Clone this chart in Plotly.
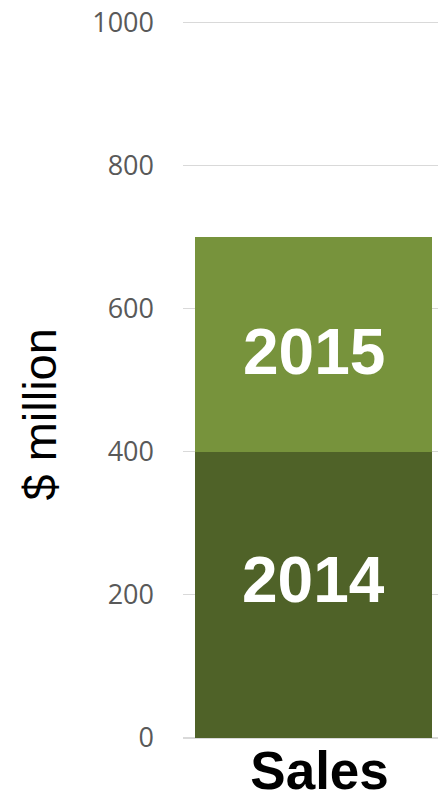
import plotly.graph_objects as go

categories = ["Sales"]
series_names = ["2014", "2015"]
values_2014 = [400]
values_2015 = [300]
series_colors = ["#4F6228", "#77933C"]
label_shifts = [15, -8]
y_ticks = [0, 200, 400, 600, 800, 1000]

fig = go.Figure()
base = [0] * len(categories)
annotations = []
for name, vals, col, shift in zip(series_names, [values_2014, values_2015], series_colors, label_shifts):
    fig.add_trace(go.Bar(
        x=categories, y=vals, name=name,
        marker=dict(color=col, line=dict(width=0)),
    ))
    for i, (c, v) in enumerate(zip(categories, vals)):
        annotations.append(dict(
            x=c, y=base[i] + v / 2, xref="x", yref="y", text=name,
            showarrow=False, yshift=shift, xanchor="center", yanchor="middle",
            font=dict(family="Liberation Sans", size=64, color="white", weight="bold"),
        ))
        base[i] += v

annotations.append(dict(
    text="$ million", xref="paper", yref="paper",
    x=(40 - 183) / 255, y=(738 - 415) / 716, xanchor="center", yanchor="middle",
    textangle=-90, showarrow=False,
    font=dict(family="Liberation Sans", size=47, color="black"),
))

fig.update_layout(
    barmode="stack", bargap=0.07,
    width=438, height=792,
    margin=dict(l=183, r=0, t=21, b=54, autoexpand=False),
    plot_bgcolor="white", paper_bgcolor="white",
    showlegend=False,
    xaxis=dict(
        range=[-0.512, 0.488],
        showgrid=False, showline=False, zeroline=False, automargin=False,
        tickfont=dict(family="Liberation Sans", size=53, color="black", weight="bold"),
        ticklabelstandoff=-3, ticklabelshift=6,
    ),
    yaxis=dict(
        range=[0, 1002], tickvals=y_ticks, automargin=False,
        showgrid=True, gridcolor="#D9D9D9", gridwidth=1,
        zeroline=True, zerolinecolor="#D9D9D9", zerolinewidth=1.5,
        showline=False,
        tickfont=dict(family="Open Sans", size=27, color="#595959"),
        ticklabelstandoff=28,
    ),
    annotations=annotations,
)

fig.write_html("out.html", config={"displayModeBar": False},
               post_script="document.body.style.margin='0';")
